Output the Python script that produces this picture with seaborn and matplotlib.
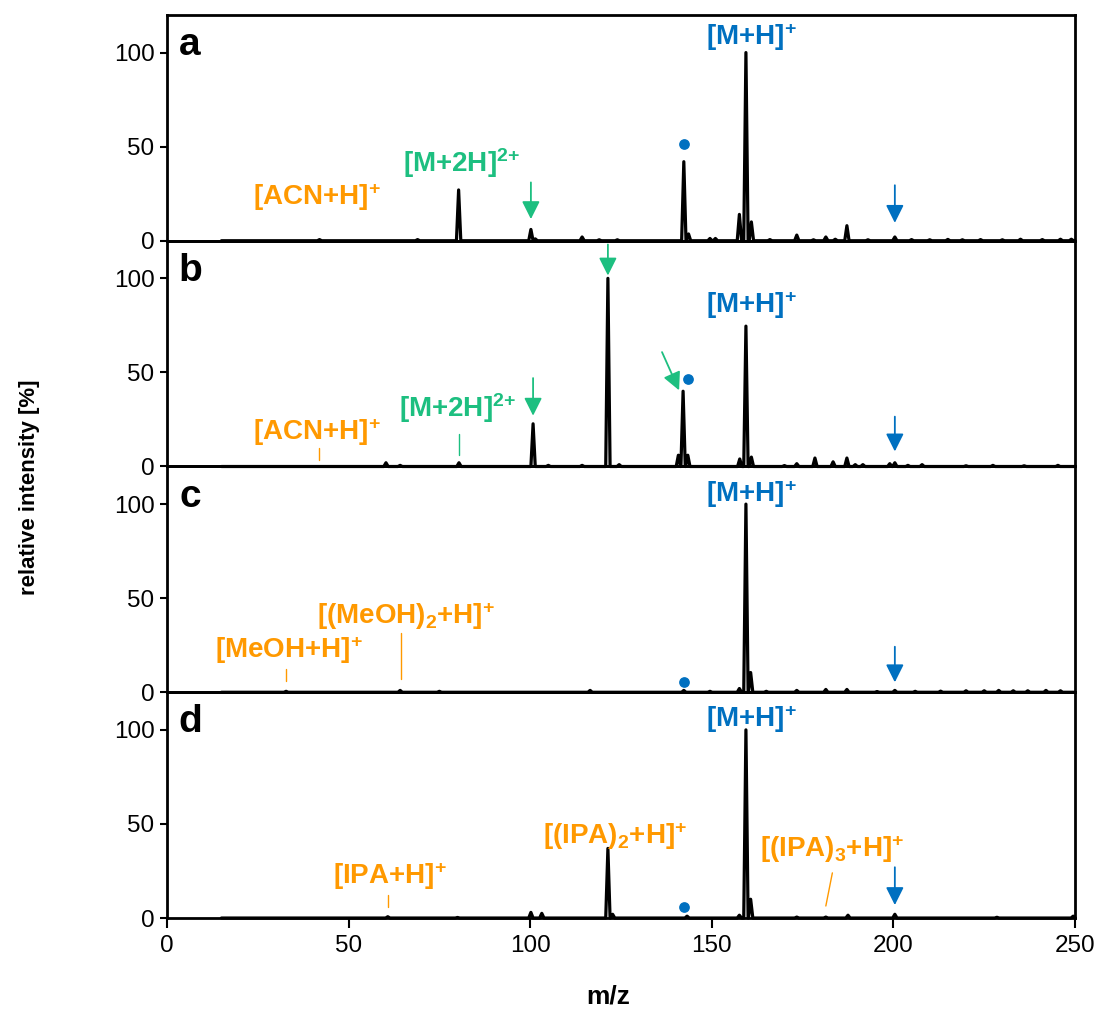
import numpy as np
import pandas as pd
import matplotlib
matplotlib.use("Agg")
import matplotlib.pyplot as plt
import seaborn as sns

# peak lists: (m/z, relative intensity)
mz_a = [42.0, 69.0, 80.3, 100.2, 101.4, 114.3, 119.0, 124.0, 142.3, 143.6, 149.5, 151.0,
        157.6, 159.4, 160.9, 166.0, 173.4, 178.0, 181.4, 184.0, 187.2, 193.0, 200.4,
        205.0, 210.0, 215.0, 219.0, 224.0, 230.0, 235.0, 241.0, 246.0, 249.0]
int_a = [0.6, 0.6, 27, 6, 1, 2, 0.5, 0.5, 42, 3.6, 1.2, 1.2,
         14, 100, 10, 0.6, 3, 0.5, 2, 0.8, 8, 0.5, 2,
         0.6, 0.5, 0.7, 0.5, 0.6, 0.5, 0.8, 0.6, 0.8, 0.8]

mz_b = [60.3, 64.2, 80.4, 100.8, 105.0, 114.3, 121.4, 124.5, 140.8, 142.1, 143.4,
        157.7, 159.4, 160.9, 170.0, 173.4, 178.4, 183.4, 187.2, 189.5, 191.6, 199.0,
        200.4, 204.0, 207.9, 220.0, 227.4, 236.0, 245.3]
int_b = [2, 0.6, 2, 22.7, 0.6, 0.6, 100, 1, 6, 40, 6,
         4, 74.6, 5, 0.5, 1.5, 4.5, 2.5, 4.5, 1, 1, 1.5,
         2, 0.6, 1, 0.4, 0.6, 0.4, 0.6]

mz_c = [32.8, 64.2, 75.0, 116.5, 142.3, 149.5, 157.6, 159.4, 160.7, 165.0, 173.4,
        181.4, 187.2, 195.5, 200.4, 206.0, 213.0, 220.0, 225.0, 229.0, 233.0, 237.0,
        242.0, 246.0]
int_c = [0.5, 1, 0.5, 1, 1, 0.5, 2, 100, 10.5, 0.5, 1,
         1.5, 1.5, 0.4, 1, 0.5, 0.6, 0.8, 0.8, 1, 0.8, 0.8,
         1, 0.8]

mz_d = [60.8, 80.0, 100.2, 103.2, 121.4, 122.7, 143.2, 157.6, 159.4, 160.7, 173.4,
        181.4, 187.5, 200.4, 228.5, 249.5]
int_d = [0.7, 0.3, 3, 2.5, 37, 2, 1, 1.5, 100, 10, 0.5,
         0.5, 1.5, 2, 0.4, 1]

panel_names = ["a", "b", "c", "d"]
x_ticks = [0, 50, 100, 150, 200, 250]
y_ticks = [0, 50, 100]

orange = "#ff9900"
green = "#1dbf80"
blue = "#0070c0"

sns.set_theme(style="ticks")
plt.rcParams["font.family"] = ["Liberation Sans", "DejaVu Sans"]
plt.rcParams["mathtext.fontset"] = "custom"
plt.rcParams["mathtext.rm"] = "Liberation Sans:bold"
plt.rcParams["mathtext.bf"] = "Liberation Sans:bold"
plt.rcParams["mathtext.it"] = "Liberation Sans:bold"
for key in ["text.color", "axes.labelcolor", "xtick.color", "ytick.color", "axes.edgecolor"]:
    plt.rcParams[key] = "black"


def profile(mz, inten, w=0.6):
    # each stick drawn as a narrow peak sitting on the baseline
    xs, ys = [15.0], [0.0]
    for m, h in sorted(zip(mz, inten)):
        xs += [m - w, m, m + w]
        ys += [0.0, h, 0.0]
    xs.append(250.0)
    ys.append(0.0)
    return pd.DataFrame({"mz": xs, "intensity": ys})


def arrow(ax, x0, y0, x1, y1, color):
    ax.annotate("", xy=(x1, y1), xytext=(x0, y0),
                arrowprops=dict(arrowstyle="-|>,head_length=0.6,head_width=0.3",
                                mutation_scale=18, lw=1.3, color=color,
                                shrinkA=0, shrinkB=0))


def label(ax, x, y, s, color):
    ax.text(x, y, s, color=color, fontsize=20, fontweight="bold",
            ha="center", va="center")


def stick(ax, x0, y0, x1, y1, color):
    ax.plot([x0, x1], [y0, y1], color=color, lw=1.0)


fig = plt.figure(figsize=(11.02, 10.18), dpi=100)
gs = fig.add_gridspec(4, 1, left=0.1515, right=0.9755, top=0.9853, bottom=0.0982, hspace=0)

spectra = [(mz_a, int_a), (mz_b, int_b), (mz_c, int_c), (mz_d, int_d)]
axes = []
for i, (mz, inten) in enumerate(spectra):
    ax = fig.add_subplot(gs[i])
    axes.append(ax)
    df = profile(mz, inten)
    sns.lineplot(data=df, x="mz", y="intensity", sort=False, estimator=None,
                 color="black", lw=2.3, ax=ax, clip_on=False)
    ax.set_xlim(0, 250)
    ax.set_ylim(0, 120)
    ax.set_yticks(y_ticks)
    ax.set_xticks(x_ticks)
    ax.set_xlabel("")
    ax.set_ylabel("")
    for sp in ax.spines.values():
        sp.set_visible(True)
        sp.set_linewidth(2.0)
        sp.set_color("black")
    ax.tick_params(axis="y", direction="out", length=5, width=1.5, pad=4,
                   labelsize=17.5, color="black", labelcolor="black")
    if i < 3:
        ax.tick_params(axis="x", length=0, labelbottom=False)
    else:
        ax.tick_params(axis="x", direction="out", length=7, width=1.5, pad=5,
                       labelsize=17.5, color="black", labelcolor="black")
    ax.text(6.3, 104, panel_names[i], fontsize=28, fontweight="bold",
            ha="center", va="center", color="black")
    ax.set_zorder(4 - i)
    ax.patch.set_alpha(0)

ax_a, ax_b, ax_c, ax_d = axes

# panel a
label(ax_a, 41.3, 23, r"[ACN+H]$^{+}$", orange)
label(ax_a, 81, 41, r"[M+2H]$^{2{+}}$", green)
label(ax_a, 161, 108, r"[M+H]$^{+}$", blue)
arrow(ax_a, 100.2, 31, 100.2, 11.5, green)
arrow(ax_a, 200.4, 29.5, 200.4, 9.5, blue)
ax_a.scatter([142.3], [51.3], s=45, color=blue, zorder=5)

# panel b
label(ax_b, 41.3, 18, r"[ACN+H]$^{+}$", orange)
label(ax_b, 80, 31, r"[M+2H]$^{2{+}}$", green)
label(ax_b, 161, 86, r"[M+H]$^{+}$", blue)
stick(ax_b, 41.8, 10, 41.8, 3.2, orange)
stick(ax_b, 80.4, 17.5, 80.4, 6.3, green)
arrow(ax_b, 100.8, 47, 100.8, 27, green)
arrow(ax_b, 121.4, 118, 121.4, 101.5, green)
arrow(ax_b, 136.3, 60.8, 141.0, 40.5, green)
arrow(ax_b, 200.4, 26.5, 200.4, 8, blue)
ax_b.scatter([143.4], [46.5], s=45, color=blue, zorder=5)

# panel c
label(ax_c, 33.7, 22.5, r"[MeOH+H]$^{+}$", orange)
label(ax_c, 65.8, 40.5, r"[(MeOH)$_{2}$+H]$^{+}$", orange)
label(ax_c, 161, 105.5, r"[M+H]$^{+}$", blue)
stick(ax_c, 32.8, 12.6, 32.8, 5.8, orange)
stick(ax_c, 64.4, 31.6, 64.4, 6.8, orange)
arrow(ax_c, 200.4, 24.2, 200.4, 5.3, blue)
ax_c.scatter([142.3], [5.3], s=45, color=blue, zorder=5)

# panel d
label(ax_d, 61.4, 22, r"[IPA+H]$^{+}$", orange)
label(ax_d, 123.3, 43.5, r"[(IPA)$_{2}$+H]$^{+}$", orange)
label(ax_d, 183.1, 36.5, r"[(IPA)$_{3}$+H]$^{+}$", orange)
label(ax_d, 161, 105.5, r"[M+H]$^{+}$", blue)
stick(ax_d, 60.8, 12, 60.8, 5.8, orange)
stick(ax_d, 183.2, 24, 181.4, 6.4, orange)
arrow(ax_d, 200.4, 27, 200.4, 6.9, blue)
ax_d.scatter([142.3], [6], s=45, color=blue, zorder=5)

fig.text(30 / 1102, 1 - 487 / 1018, "relative intensity [%]", rotation=90,
         fontsize=16, fontweight="bold", ha="center", va="center")
fig.text(608 / 1102, 1 - 997 / 1018, "m/z", fontsize=19, fontweight="bold",
         ha="center", va="center")

fig.savefig("out.png", dpi=100)
